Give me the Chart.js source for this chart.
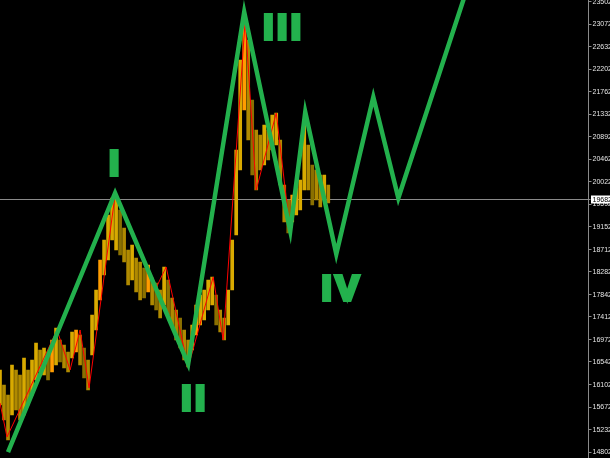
<!DOCTYPE html>
<html>
<head>
<meta charset="utf-8">
<script src="https://cdn.jsdelivr.net/npm/chart.js@4"></script>
<style>
  html, body { margin: 0; padding: 0; background: #000; }
  canvas { display: block; }
</style>
</head>
<body>
<canvas id="grafico" width="610" height="458"></canvas>
<script>
// right axis tick labels
const tickLabels = [23502, 23072, 22632, 22202, 21762, 21332, 20892, 20462, 20022, 19592,
  19152, 18712, 18282, 17842, 17412, 16972, 16542, 16102, 15672, 15232, 14802];
const currentPrice = 19682;

// price bars (one per bar index), high and low
const barHighs = [16388, 16098, 15905, 16484, 16388, 16291, 16619, 16388, 16581, 16909,
  16774, 16813, 16735, 16967, 17199, 16967, 16871, 16735, 17122, 17160,
  17064, 16813, 16581, 17450, 17933, 18513, 18899, 19382, 19711, 19769,
  19479, 19131, 18706, 18803, 18551, 18474, 18358, 18416, 18165, 18068,
  17933, 18378, 18126, 17779, 17547, 17392, 17160, 16967, 17257, 17643,
  17837, 17933, 18126, 18184, 17837, 17547, 17392, 17933, 18899, 20638,
  22377, 23150, 22763, 21604, 21024, 20928, 21121, 21024, 21314, 21353,
  20831, 19962, 19672, 19769, 19904, 20058, 21121, 20735, 20348, 20252,
  20155, 20155, 19962];
const barLows = [15711, 15422, 15035, 15518, 15615, 15422, 15518, 15711, 15905, 16194,
  16349, 16291, 16194, 16349, 16484, 16542, 16426, 16349, 16619, 16735,
  16484, 16233, 16001, 16677, 17160, 17740, 18223, 18513, 18899, 18706,
  18609, 18474, 18030, 18126, 17895, 17740, 17779, 17895, 17643, 17547,
  17392, 17643, 17450, 17257, 16967, 16813, 16581, 16446, 16774, 17064,
  17257, 17354, 17547, 17643, 17257, 17122, 16967, 17257, 17933, 18996,
  20252, 21411, 20831, 20155, 19865, 20252, 20348, 20445, 20638, 20735,
  19962, 19247, 19034, 19247, 19382, 19479, 19865, 19865, 19575, 19672,
  19537, 19672, 19614];

// red zigzag
const zigzagX = [0, 1.75, 14.25, 17.5, 20, 22.25, 28.75, 38.75, 41.5, 47, 53.25, 55.75, 61.25, 64, 69, 72.5];
const zigzagY = [15750, 15093, 17160, 16388, 17160, 16040, 19769, 17933, 18378, 16446, 18184, 16967, 23150, 19865, 21353, 19054];

// green wave count
const waveX = [2, 28.75, 47, 61, 72.5, 76.25, 84, 93.25, 99.5, 117.5];
const waveY = [14802, 19807, 16503, 23304, 19072, 21372, 18628, 21662, 19710, 23950];
const waveNames = ['I', 'II', 'III', 'IV'];
const wavePivot = [1, 2, 3, 6];

const verde = '#23b14d';
const labelOffsets = [[1, -18], [7, 46], [40, 27], [6, 46]];

const colores = barHighs.map((h, i) => {
  if (i > 0 && h < barHighs[i - 1]) return i % 3 === 0 ? '#8a7000' : '#b08a00';
  return i % 6 === 1 ? '#ff9c00' : '#d9aa00';
});

const etiquetas = {
  id: 'etiquetas',
  beforeDatasetsDraw(chart) {
    const { ctx, chartArea, scales: { y } } = chart;
    const py = Math.round(y.getPixelForValue(currentPrice)) + 0.5;
    ctx.save();
    ctx.strokeStyle = '#8a8a8a';
    ctx.lineWidth = 1;
    ctx.beginPath();
    ctx.moveTo(0, py);
    ctx.lineTo(chartArea.right + 2, py);
    ctx.stroke();
    ctx.restore();
  },
  afterDraw(chart) {
    const { ctx, chartArea, scales: { x, y } } = chart;
    ctx.save();
    // wave labels
    ctx.font = 'bold 35px "Liberation Sans"';
    ctx.letterSpacing = '4px';
    ctx.textAlign = 'center';
    ctx.textBaseline = 'alphabetic';
    ctx.fillStyle = verde;
    ctx.strokeStyle = verde;
    ctx.lineWidth = 4;
    waveNames.forEach((n, k) => {
      const p = wavePivot[k];
      const px = x.getPixelForValue(waveX[p]) + labelOffsets[k][0];
      const py = y.getPixelForValue(waveY[p]) + labelOffsets[k][1];
      ctx.strokeText(n, px, py);
      ctx.fillText(n, px, py);
    });
    // current price box
    ctx.letterSpacing = '0px';
    const py = Math.round(y.getPixelForValue(currentPrice)) + 0.5;
    ctx.fillStyle = '#fff';
    ctx.fillRect(chartArea.right + 2.5, py - 4, 30, 8);
    ctx.fillStyle = '#000';
    ctx.font = '7px "Liberation Sans"';
    ctx.textAlign = 'left';
    ctx.textBaseline = 'middle';
    ctx.fillText(String(currentPrice), chartArea.right + 4, py + 0.5);
    ctx.restore();
  }
};

const ctx = document.getElementById('grafico').getContext('2d');
const myChart = new Chart(ctx, {
  data: {
    datasets: [{
      type: 'line',
      data: waveX.map((v, i) => ({ x: v, y: waveY[i] })),
      borderColor: verde,
      borderWidth: 4.5,
      pointRadius: 0,
      tension: 0
    }, {
      type: 'line',
      data: zigzagX.map((v, i) => ({ x: v, y: zigzagY[i] })),
      borderColor: '#ff0000',
      borderWidth: 1,
      pointRadius: 0,
      tension: 0
    }, {
      type: 'bar',
      data: barHighs.map((h, i) => ({ x: i, y: [barLows[i], h] })),
      backgroundColor: colores,
      borderWidth: 0,
      barThickness: 3
    }]
  },
  options: {
    responsive: false,
    animation: false,
    devicePixelRatio: 1,
    layout: { padding: 0 },
    plugins: { legend: { display: false }, tooltip: { enabled: false } },
    scales: {
      x: {
        type: 'linear',
        min: 0,
        max: 147,
        offset: false,
        display: false
      },
      y: {
        position: 'right',
        min: 14687,
        max: 23536,
        afterBuildTicks: (s) => { s.ticks = tickLabels.map(v => ({ value: v })); },
        afterFit: (s) => { s.width = 21.5; s.paddingTop = 0; s.paddingBottom = 0; },
        border: { color: '#8a8a8a', width: 1 },
        grid: { drawOnChartArea: false, color: '#8a8a8a', tickLength: 3 },
        ticks: {
          autoSkip: false,
          padding: 1,
          color: '#e6e6e6',
          font: { family: 'Liberation Sans', size: 7 },
          callback: (v) => String(v)
        }
      }
    }
  },
  plugins: [etiquetas]
});
</script>
</body>
</html>
